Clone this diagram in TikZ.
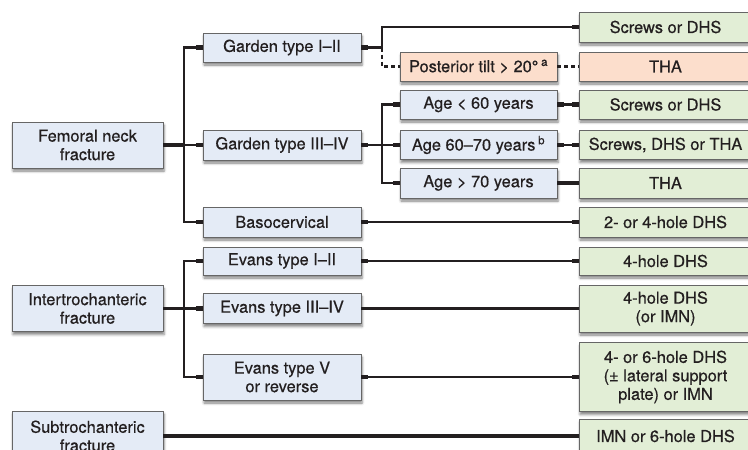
\documentclass[tikz,border=0pt]{standalone}
\usepackage{fontspec}
\setmainfont{TeX Gyre Heros}[FakeBold=0.5]
\usepackage{xcolor}
\usepackage{tikz}
\usetikzlibrary{arrows.meta, shadows.blur}

\definecolor{boxblue}{RGB}{228,235,246}
\definecolor{boxgreen}{RGB}{226,238,214}
\definecolor{boxorange}{RGB}{252,222,204}
\definecolor{ink}{RGB}{35,31,32}

\begin{document}
\begin{tikzpicture}[
    x=1pt, y=-1pt,
    font=\fontsize{16.4}{18.5}\selectfont, text=ink,
    box/.style={draw=black!60, line width=0.8pt, inner sep=0pt, align=center,
        blur shadow={shadow xshift=1pt, shadow yshift=-3pt, shadow blur radius=2.5pt, shadow opacity=50}},
    cat/.style={box, fill=boxblue, minimum width=151pt, minimum height=46pt},
    sub/.style={box, fill=boxblue, minimum width=158pt, minimum height=29pt},
    age/.style={box, fill=boxblue, minimum width=157pt, minimum height=29pt},
    tilt/.style={age, fill=boxorange},
    res/.style={box, fill=boxgreen, minimum width=173pt, minimum height=29pt},
    tab/.tip={Rectangle[length=7pt, width=4.6pt]},
    link/.style={draw=ink, line width=2.2pt},
    trunk/.style={draw=ink, line width=3.6pt},
    dots/.style={draw=ink, line width=2.2pt, dash pattern=on 4pt off 3pt},
]
\useasboundingbox (0,0) rectangle (748,450);
\clip (0,0) rectangle (748,450);

% Fracture sites
\node[cat] (fn) at (87.5,145) {Femoral neck\\fracture};
\node[cat] (it) at (87.5,308.5) {Intertrochanteric\\fracture};
\node[cat, minimum height=50pt] (st) at (87.5,436) {Subtrochanteric\\fracture};

% Classification
\node[sub] (g12) at (282,47.5) {Garden type I–II};
\node[sub, minimum height=30pt] (g34) at (282,145) {Garden type III–IV};
\node[sub, minimum height=30pt] (bc) at (282,222) {Basocervical};
\node[sub, minimum height=28pt] (e12) at (282,261) {Evans type I–II};
\node[sub, minimum height=30pt] (e34) at (282,308.5) {Evans type III–IV};
\node[sub, minimum height=46pt] (e5) at (282,377) {Evans type V\\or reverse};

% Tilt and age
\node[tilt] (pt) at (478.5,66.5) {Posterior tilt > 20°\,\textsuperscript{a}};
\node[age] (a1) at (478.5,104.5) {Age < 60 years};
\node[age] (a2) at (478.5,145) {Age 60–70 years\,\textsuperscript{b}};
\node[age, minimum height=30pt] (a3) at (478.5,183) {Age > 70 years};

% Treatment
\node[res, minimum height=30pt] (r1) at (665.5,27) {Screws or DHS};
\node[res, fill=boxorange] (r2) at (665.5,66.5) {THA};
\node[res] (r3) at (665.5,104.5) {Screws or DHS};
\node[res] (r4) at (665.5,145) {Screws, DHS or THA};
\node[res, minimum height=30pt] (r5) at (665.5,183) {THA};
\node[res, minimum height=30pt] (r6) at (665.5,222) {2- or 4-hole DHS};
\node[res, minimum height=28pt] (r7) at (665.5,261) {4-hole DHS};
\node[res, minimum height=47pt] (r8) at (665.5,308.5) {4-hole DHS\\(or IMN)};
\node[res, minimum height=69pt] (r9) at (665.5,377) {4- or 6-hole DHS\\(± lateral support\\plate) or IMN};
\node[res, minimum height=34pt] (r10) at (665.5,436) {IMN or 6-hole DHS};

% Junctions
\coordinate (jfn) at (184,145);
\coordinate (jit) at (184,308.5);
\coordinate (jg12) at (382,47.5);
\coordinate (jg34) at (382,145);

% Femoral neck
\draw[trunk] (fn) -- (jfn);
\draw[link, -tab] (jfn) |- (g12.west);
\draw[link, -tab] (jfn) -- (g34);
\draw[link, -tab] (jfn) |- (bc.west);
\draw[link, tab-tab] (g12) -- (jg12) |- (r1.west);
\draw[dots] (jg12) |- (pt.west);
\draw[dots] (pt) -- (r2);
\draw[link, tab-] (g34) -- (jg34);
\draw[link, -tab] (jg34) |- (a1.west);
\draw[link, -tab] (jg34) -- (a2);
\draw[link, -tab] (jg34) |- (a3.west);
\draw[link, tab-tab] (a1) -- (r3);
\draw[link, tab-tab] (a2) -- (r4);
\draw[trunk] (a3) -- (r5);
\draw[link, tab-tab] (bc) -- (r6);

% Intertrochanteric
\draw[trunk] (it) -- (jit);
\draw[link, -tab] (jit) |- (e12.west);
\draw[link, -tab] (jit) -- (e34);
\draw[link, -tab] (jit) |- (e5.west);
\draw[link, tab-tab] (e12) -- (r7);
\draw[trunk] (e34) -- (r8);
\draw[link, tab-tab] (e5) -- (r9);

% Subtrochanteric
\draw[trunk] (st) -- (r10);

\end{tikzpicture}
\end{document}
